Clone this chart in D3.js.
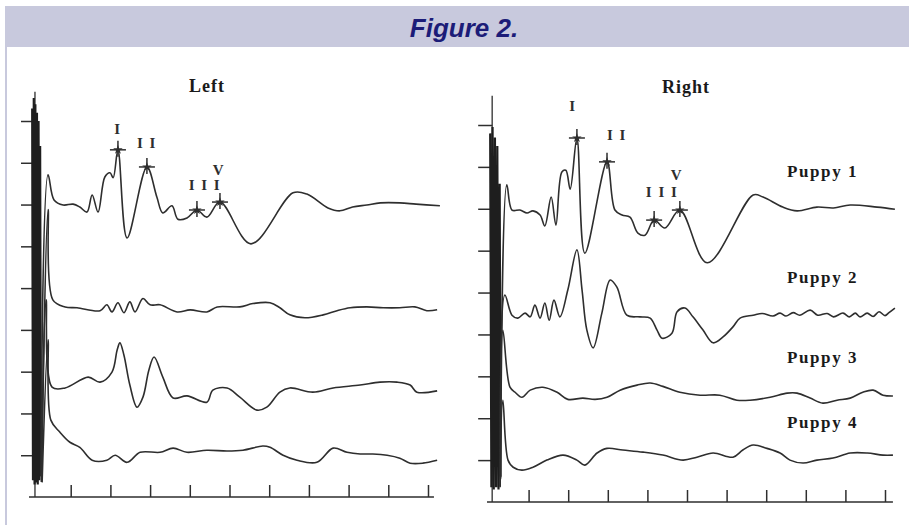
<!DOCTYPE html>
<html>
<head>
<meta charset="utf-8">
<script src="https://cdn.jsdelivr.net/npm/d3@7"></script>
<style>
  body { margin: 0; background: #fff; }
</style>
</head>
<body>
<div id="fig"></div>
<script>
// Figure 2: ABR waveforms, left and right ear, four puppies

const W = 909, H = 525;

// ---- data ----
const puppies = ["Puppy 1", "Puppy 2", "Puppy 3", "Puppy 4"];
const sides = ["Left", "Right"];
const timeTicks = [1, 2, 3, 4, 5, 6, 7, 8, 9, 10];   // ms
const ampTicks = [1, 2, 3, 4, 5, 6, 7, 8, 9];
const peakNames = ["I", "I I", "I I I", "V"];

// baseline of each trace, in axis units
const leftOffsets = [6.99, 4.53, 2.56, 1.05];
const rightOffsets = [6.97, 4.44, 2.55, 1.07];

// latency of the marked peaks on Puppy 1 (ms)
const leftPeakTimes = [2.19, 2.92, 4.18, 4.76];
const rightPeakTimes = [2.22, 2.98, 4.17, 4.82];

// stimulus artifact (absolute units)
const leftArtifact = [[0.03, 9.3], [0.05, 0.4], [0.07, 9.55], [0.09, 0.3], [0.11, 9.4], [0.13, 0.35],
  [0.15, 9.2], [0.17, 0.3], [0.19, 9.0], [0.21, 0.4], [0.23, 8.4], [0.25, 0.5]];
const rightArtifact = [[0.03, 8.8], [0.06, 0.35], [0.09, 8.95], [0.12, 0.3], [0.15, 8.7], [0.18, 0.35],
  [0.21, 8.5], [0.24, 0.3], [0.27, 7.6], [0.29, 0.6]];

// traces: [ms, amplitude relative to baseline]
const leftP1 = [[0.25, -6.5], [0.43, 0.72], [0.58, 0.12], [0.81, 0], [1.06, 0.02], [1.23, -0.05], [1.41, -0.17],
  [1.54, 0.24], [1.69, -0.17], [1.86, 0.67], [1.99, 0.77], [2.07, 0.65], [2.19, 1.32], [2.42, -0.79],
  [2.92, 0.91], [3.17, 0.19], [3.32, -0.19], [3.55, -0.02], [3.70, -0.34], [3.93, -0.31], [4.18, -0.12],
  [4.43, -0.29], [4.76, 0.07], [5.54, -0.93], [6.60, 0.29], [6.95, 0.26], [7.48, -0.07], [7.78, -0.14],
  [8.10, -0.05], [8.46, 0], [8.80, 0.05], [9.29, 0.05], [9.70, 0.02], [10.30, -0.02]];
const leftP2 = [[0.27, -4.1], [0.43, 2.35], [0.55, 0.19], [0.86, 0.02], [1.16, 0], [1.74, -0.07], [1.91, 0.07],
  [2.04, -0.10], [2.19, 0.12], [2.34, -0.12], [2.49, 0.14], [2.62, -0.10], [2.82, 0.22], [3.00, 0.07],
  [3.25, 0.07], [3.68, -0.10], [4.01, -0.05], [4.43, -0.10], [4.69, 0.02], [5.26, 0.02], [5.59, 0.10],
  [6.02, 0.12], [6.27, 0], [6.52, -0.17], [6.90, -0.24], [7.36, -0.17], [7.71, -0.07], [8.04, 0],
  [8.46, 0.02], [8.87, 0], [9.29, 0], [9.67, 0.02], [9.97, -0.07], [10.23, -0.05]];
const leftP3 = [[0.26, -2.2], [0.38, 2.16], [0.53, 0.07], [0.86, 0.05], [1.44, 0.31], [1.74, 0.19], [2.04, 0.43],
  [2.17, 0.96], [2.24, 1.13], [2.34, 0.84], [2.49, 0.12], [2.67, -0.41], [2.82, -0.17], [2.97, 0.48],
  [3.10, 0.79], [3.32, 0.31], [3.58, -0.19], [3.93, -0.14], [4.43, -0.29], [4.58, 0], [4.94, 0.05],
  [5.26, -0.17], [5.69, -0.48], [5.94, -0.41], [6.27, -0.05], [6.52, 0.05], [7.10, -0.05], [7.61, 0.05],
  [8.29, 0.12], [8.79, 0.19], [9.22, 0.19], [9.55, 0.12], [9.72, -0.05], [10.23, -0.02]];
const leftP4 = [[0.28, -0.7], [0.43, 2.71], [0.50, 0.79], [0.73, 0.50], [0.98, 0.26], [1.23, 0.14], [1.54, -0.17],
  [1.91, -0.17], [2.12, -0.05], [2.42, -0.22], [2.75, 0.02], [3.25, 0.02], [3.58, 0.12], [3.93, 0.02],
  [4.43, 0.07], [4.94, 0.05], [5.34, 0.07], [5.84, 0.17], [6.02, 0.14], [6.35, -0.05], [6.70, -0.17],
  [7.20, -0.22], [7.61, 0.12], [7.96, 0.02], [8.29, -0.02], [8.61, -0.02], [8.97, -0.05], [9.29, -0.12],
  [9.55, -0.24], [9.87, -0.24], [10.23, -0.17]];

const rightP1 = [[0.29, -6.4], [0.45, 0.60], [0.58, 0], [0.78, 0], [0.96, -0.07], [1.11, -0.02], [1.29, -0.12],
  [1.41, -0.38], [1.57, 0.31], [1.69, -0.36], [1.84, 0.91], [1.94, 0.95], [2.05, 0.50], [2.22, 1.72],
  [2.42, -1.03], [2.98, 1.15], [3.18, 0], [3.36, -0.12], [3.56, -0.17], [3.76, -0.55], [3.94, -0.60],
  [4.17, -0.24], [4.44, -0.43], [4.82, 0], [5.51, -1.26], [6.67, 0.36], [6.92, 0.31], [7.42, 0.07],
  [7.78, -0.02], [8.28, 0.07], [8.70, 0.05], [9.12, 0.12], [9.80, 0.07], [10.25, 0.02]];
const rightP2 = [[0.29, -3.9], [0.40, 0.50], [0.58, 0.02], [0.73, -0.05], [0.91, 0.07], [1.04, -0.02], [1.16, 0.26],
  [1.29, -0.05], [1.41, 0.31], [1.52, -0.10], [1.64, 0.38], [1.79, -0.02], [1.99, 0.62], [2.22, 1.58],
  [2.35, 0.62], [2.47, -0.33], [2.63, -0.76], [2.85, 0.07], [3.06, 0.86], [3.23, 0.69], [3.48, 0.02],
  [3.81, -0.02], [4.07, -0.05], [4.24, -0.33], [4.37, -0.53], [4.62, -0.41], [4.75, 0.10], [4.95, 0.19],
  [5.15, -0.02], [5.40, -0.33], [5.66, -0.64], [5.91, -0.50], [6.16, -0.26], [6.34, -0.05], [6.67, 0.02],
  [6.90, 0.06], [7.17, 0], [7.35, 0.07], [7.50, 0], [7.68, 0.08], [7.85, 0.02], [8.11, 0.14],
  [8.30, 0.02], [8.54, 0.06], [8.70, -0.02], [8.94, 0.07], [9.10, -0.02], [9.25, 0.07], [9.37, -0.02],
  [9.55, 0.07], [9.70, -0.01], [9.85, 0.10], [10.00, 0.01], [10.10, 0.08], [10.25, 0.19]];
const rightP3 = [[0.28, -2.2], [0.35, 1.55], [0.53, 0.19], [0.66, 0.07], [0.83, -0.05], [1.04, 0.12], [1.36, 0.19],
  [1.72, 0.07], [1.99, -0.10], [2.37, -0.07], [2.68, -0.10], [2.98, -0.05], [3.31, 0.12], [3.74, 0.24],
  [4.07, 0.29], [4.39, 0.21], [4.82, 0.07], [5.33, 0], [5.83, 0], [6.26, -0.12], [6.59, -0.12],
  [7.10, -0.05], [7.53, 0.05], [7.78, 0.05], [8.11, -0.07], [8.43, -0.19], [8.79, -0.12], [9.12, -0.07],
  [9.44, 0.07], [9.70, 0.12], [9.95, 0], [10.20, -0.02]];
const rightP4 = [[0.28, -0.7], [0.35, 1.36], [0.48, -0.07], [0.61, -0.24], [0.83, -0.31], [1.11, -0.24],
  [1.46, -0.07], [1.87, 0.05], [2.22, -0.07], [2.42, -0.19], [2.73, 0.10], [2.98, 0.21], [3.38, 0.17],
  [3.89, 0.12], [4.39, 0.05], [4.90, -0.07], [5.25, 0], [5.66, 0.10], [6.16, 0], [6.41, 0.17], [6.67, 0.29],
  [7.02, 0.21], [7.35, 0.10], [7.60, -0.07], [7.93, -0.14], [8.28, -0.07], [8.69, -0.02], [9.12, 0.10],
  [9.55, 0.10], [9.95, 0.05], [10.20, 0.05]];

// ---- layout ----
const panels = [
  { side: sides[0], traces: [leftP1, leftP2, leftP3, leftP4], offsets: leftOffsets, artifact: leftArtifact,
    peaks: leftPeakTimes, xr: [31, 428], yr: [497, 121], top: 9.7, axisT: 0.1, xMin: -0.05, xMax: 10.15,
    titleX: 207, titleY: 92,
    labelOff: [[0, -16], [0, -19], [8, -20], [-1, -27]] },
  { side: sides[1], traces: [rightP1, rightP2, rightP3, rightP4], offsets: rightOffsets, artifact: rightArtifact,
    peaks: rightPeakTimes, xr: [489, 885], yr: [502, 125], top: 9.7, axisT: 0.08, xMin: -0.05, xMax: 10.2,
    titleX: 686, titleY: 93,
    labelOff: [[-4, -27], [10, -22], [8, -23], [-3, -30]] }
];

const puppyLabelY = [177, 283, 363, 428];

const svg = d3.select("#fig").append("svg")
  .attr("width", W)
  .attr("height", H)
  .style("display", "block");

// header band and frame
svg.append("rect").attr("x", 0).attr("y", 0).attr("width", W).attr("height", H).attr("fill", "#fff");
svg.append("rect").attr("x", 5).attr("y", 6).attr("width", W - 5).attr("height", 41).attr("fill", "#c8c9dd");
svg.append("rect").attr("x", 5).attr("y", 47).attr("width", 2).attr("height", H - 47).attr("fill", "#c8c9dd");
svg.append("text")
  .attr("x", 464).attr("y", 37)
  .attr("text-anchor", "middle")
  .attr("font-family", "'Liberation Sans', Arial, sans-serif")
  .attr("font-size", 26)
  .attr("font-weight", "bold")
  .attr("font-style", "italic")
  .attr("fill", "#1c1c78")
  .text("Figure 2.");

const ink = "#2e2e2e";
const serif = "'Liberation Serif', 'Times New Roman', serif";

panels.forEach(p => {
  const x = d3.scaleLinear().domain([0, 10]).range(p.xr);
  const y = d3.scaleLinear().domain([0, 9]).range(p.yr);
  const g = svg.append("g");

  // y axis: ticks pointing left, no labels
  const yAx = g.append("g")
    .attr("transform", `translate(${x(p.axisT)},0)`)
    .call(d3.axisLeft(y).tickValues(ampTicks).tickSize(14).tickSizeOuter(0).tickFormat(""));
  yAx.select(".domain").remove();
  g.append("line")
    .attr("x1", x(p.axisT)).attr("x2", x(p.axisT))
    .attr("y1", y(0)).attr("y2", y(p.top))
    .attr("stroke", ink).attr("stroke-width", 1.3);

  // x axis: ticks pointing up
  const xAx = g.append("g")
    .attr("transform", `translate(0,${y(0)})`)
    .call(d3.axisTop(x).tickValues(timeTicks).tickSize(12).tickSizeOuter(0).tickFormat(""));
  xAx.select(".domain").attr("d", `M${x(p.xMin)},0H${x(p.xMax)}`);
  g.selectAll(".tick line, .domain").attr("stroke", ink).attr("stroke-width", 1.5);

  // stimulus artifact
  g.append("path")
    .datum(p.artifact)
    .attr("fill", "none")
    .attr("stroke", "#1e1e1e")
    .attr("stroke-width", 2.2)
    .attr("d", d3.line().x(d => x(d[0])).y(d => y(d[1])));

  // waveforms
  const line = d3.line().curve(d3.curveCatmullRom.alpha(0.5));
  p.traces.forEach((tr, i) => {
    g.append("path")
      .datum(tr)
      .attr("fill", "none")
      .attr("stroke", ink)
      .attr("stroke-width", 1.6)
      .attr("stroke-linejoin", "round")
      .attr("d", line.x(d => x(d[0])).y(d => y(d[1] + p.offsets[i])));
  });

  // peak markers on Puppy 1
  const p1 = p.traces[0];
  p.peaks.forEach((t, k) => {
    const pt = p1.find(d => d[0] === t);
    const cx = x(t), cy = y(pt[1] + p.offsets[0]);
    g.append("line").attr("x1", cx - 8).attr("x2", cx + 8).attr("y1", cy).attr("y2", cy)
      .attr("stroke", ink).attr("stroke-width", 1.5);
    g.append("line").attr("x1", cx).attr("x2", cx).attr("y1", cy - 9).attr("y2", cy + 7)
      .attr("stroke", ink).attr("stroke-width", 1.5);
    g.append("path").attr("d", d3.symbol(d3.symbolStar, 28)())
      .attr("transform", `translate(${cx},${cy})`).attr("fill", ink);
    g.append("text")
      .attr("x", cx + p.labelOff[k][0]).attr("y", cy + p.labelOff[k][1])
      .attr("text-anchor", "middle")
      .attr("font-family", serif)
      .attr("font-size", 15)
      .attr("font-weight", "bold")
      .attr("letter-spacing", 1.5)
      .attr("fill", ink)
      .text(peakNames[k]);
  });

  g.append("text")
    .attr("x", p.titleX).attr("y", p.titleY)
    .attr("text-anchor", "middle")
    .attr("font-family", serif)
    .attr("font-size", 18)
    .attr("font-weight", "bold")
    .attr("letter-spacing", 1)
    .attr("fill", "#1a1a1a")
    .text(p.side);
});

// puppy labels on the right
svg.selectAll(".puppy")
  .data(puppies)
  .enter()
  .append("text")
  .attr("class", "puppy")
  .attr("x", 787)
  .attr("y", (d, i) => puppyLabelY[i])
  .attr("font-family", serif)
  .attr("font-size", 17)
  .attr("font-weight", "bold")
  .attr("letter-spacing", 1.6)
  .attr("fill", "#1a1a1a")
  .text(d => d);
</script>
</body>
</html>
